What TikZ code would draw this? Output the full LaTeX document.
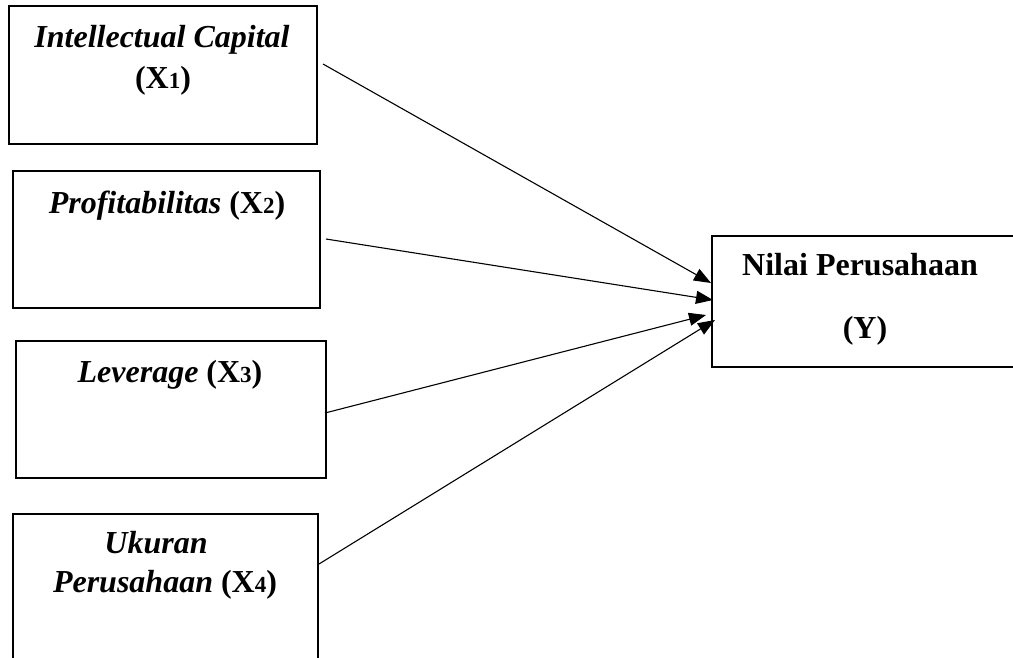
\documentclass[tikz,border=0pt]{standalone}
\usepackage{fontspec}
\setmainfont{Liberation Serif}
\usetikzlibrary{arrows.meta}
\newcommand{\mysub}[1]{{\fontsize{23}{23}\selectfont #1}}
\tikzset{
  box/.style={draw, line width=1.8pt, rectangle, inner sep=0pt},
  lbl/.style={anchor=base, inner sep=0pt, font=\fontsize{32}{38}\selectfont\bfseries},
  conn/.style={line width=1.1pt, -{Triangle[length=17pt,width=13pt]}}
}
\begin{document}
\begin{tikzpicture}[x=1pt,y=-1pt]
\useasboundingbox (0,0) rectangle (1013,657);
\clip (0,0) rectangle (1013,657);
% boxes
\node[box, minimum width=308pt, minimum height=138pt] (b1) at (163,75) {};
\node[box, minimum width=307pt, minimum height=137pt] (b2) at (166.5,239.5) {};
\node[box, minimum width=310pt, minimum height=137pt] (b3) at (171,409.5) {};
\node[box, minimum width=305pt, minimum height=190pt] (b4) at (165.5,609) {};
\node[box, minimum width=330pt, minimum height=131pt] (by) at (877,301.5) {};
% labels
\node[lbl] (t1a) at (162,47) {\textit{Intellectual Capital}};
\node[lbl] (t1b) at (163,88) {(X\mysub{1})};
\node[lbl] (t2) at (167,213) {\textit{Profitabilitas} (X\mysub{2})};
\node[lbl] (t3) at (170,382) {\textit{Leverage} (X\mysub{3})};
\node[lbl] (t4a) at (156,553) {\textit{Ukuran}};
\node[lbl] (t4b) at (165,592) {\textit{Perusahaan} (X\mysub{4})};
\node[lbl] (tya) at (860,275) {Nilai Perusahaan};
\node[lbl] (tyb) at (865,338) {(Y)};
% connector points
\coordinate (s1) at (323,64);
\coordinate (s2) at (326,239);
\coordinate (s3) at (325,413);
\coordinate (s4) at (319,564);
\coordinate (e1) at (711,283);
\coordinate (e2) at (713,300);
\coordinate (e3) at (706,315);
\coordinate (e4) at (715,320);
\draw[conn] (s1) -- (e1);
\draw[conn] (s2) -- (e2);
\draw[conn] (s3) -- (e3);
\draw[conn] (s4) -- (e4);
\end{tikzpicture}
\end{document}
